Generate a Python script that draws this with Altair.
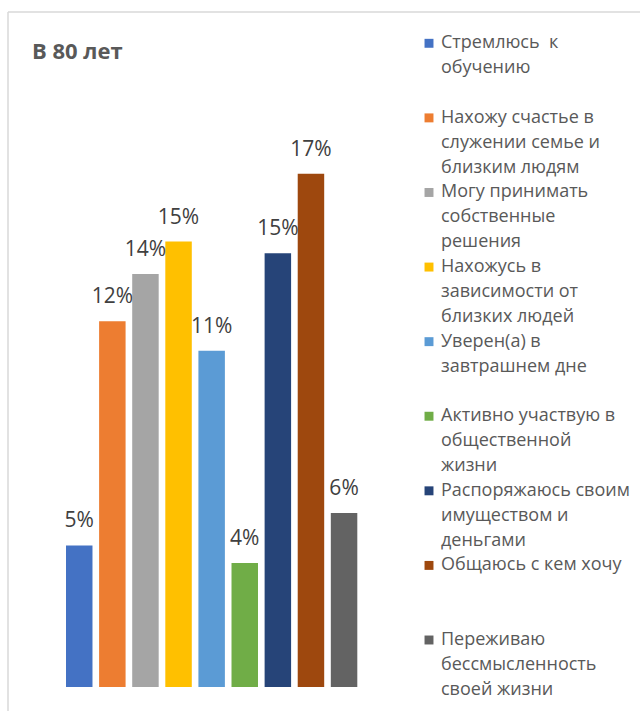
import altair as alt
import pandas as pd

categories = [
    "Стремлюсь\u00a0\u00a0к\nобучению",
    "Нахожу счастье в\nслужении семье и\nблизким людям",
    "Могу принимать\nсобственные\nрешения",
    "Нахожусь в\nзависимости от\nблизких людей",
    "Уверен(а) в\nзавтрашнем дне",
    "Активно участвую в\nобщественной\nжизни",
    "Распоряжаюсь своим\nимуществом и\nденьгами",
    "Общаюсь с кем хочу",
    "Переживаю\nбессмысленность\nсвоей жизни",
]
values = [4.8, 12.4, 14.0, 15.1, 11.4, 4.2, 14.7, 17.4, 5.9]
colors = ["#4472C4", "#ED7D31", "#A5A5A5", "#FFC000", "#5B9BD5",
          "#70AD47", "#264478", "#9E480E", "#636363"]
title_text = "В 80 лет"

df = pd.DataFrame({
    "idx": list(range(len(categories))),
    "cat": categories,
    "value": values,
    "label": [f"{int(v + 0.5):d}%" for v in values],
})

FONT = "Open Sans"

xscale = alt.Scale(domain=list(range(len(categories))), range=[58, 349.3],
                   paddingInner=0.2, paddingOuter=0)
yscale = alt.Scale(domain=[0, 20], range=[675, 85])
cscale = alt.Scale(domain=categories, range=colors)

base = alt.Chart(df)

bars = base.mark_bar().encode(
    x=alt.X("idx:O", scale=xscale, axis=None),
    y=alt.Y("value:Q", scale=yscale, axis=None),
    color=alt.Color("cat:N", scale=cscale, legend=None),
)

labels = base.mark_text(
    dy=-18, baseline="alphabetic", align="center", font=FONT, fontSize=21, color="#404040"
).encode(
    x=alt.X("idx:O", scale=xscale, axis=None, bandPosition=0.5),
    y=alt.Y("value:Q", scale=yscale, axis=None),
    text="label:N",
)

bar_layer = alt.layer(bars, labels)

lyscale = alt.Scale(domain=[0, 8], range=[36.3, 633])

leg_sq = base.mark_square(size=80, opacity=1, yOffset=-5).encode(
    x=alt.value(421),
    y=alt.Y("idx:Q", scale=lyscale, axis=None),
    color=alt.Color("cat:N", scale=cscale, legend=None),
)
leg_txt = base.mark_text(
    align="left", baseline="alphabetic", lineBreak="\n", lineHeight=25,
    font=FONT, fontSize=18, color="#595959"
).encode(
    x=alt.value(433),
    y=alt.Y("idx:Q", scale=lyscale, axis=None),
    text="cat:N",
)
leg_layer = alt.layer(leg_sq, leg_txt)

title = alt.Chart(pd.DataFrame({"t": [title_text]})).mark_text(
    align="left", baseline="alphabetic", font=FONT, fontSize=22, fontWeight="bold",
    color="#595959"
).encode(x=alt.value(24), y=alt.value(47), text="t:N")

frame_top = alt.Chart(pd.DataFrame({"a": [0]})).mark_rule(color="#d9d9d9", strokeWidth=1.5).encode(
    x=alt.value(0), x2=alt.value(632), y=alt.value(0))
frame_left = alt.Chart(pd.DataFrame({"a": [0]})).mark_rule(color="#d9d9d9", strokeWidth=1.5).encode(
    x=alt.value(0), y=alt.value(0), y2=alt.value(699))

chart = alt.layer(frame_top, frame_left, title, bar_layer, leg_layer).resolve_scale(
    x="independent", y="independent", color="independent"
).properties(
    width=632, height=699,
    padding={"left": 8, "top": 12, "right": 0, "bottom": 0},
    autosize=alt.AutoSizeParams(type="none"),
    background="white",
).configure_view(stroke=None)

chart.save("out.html", embed_options={"renderer": "svg", "actions": False})
